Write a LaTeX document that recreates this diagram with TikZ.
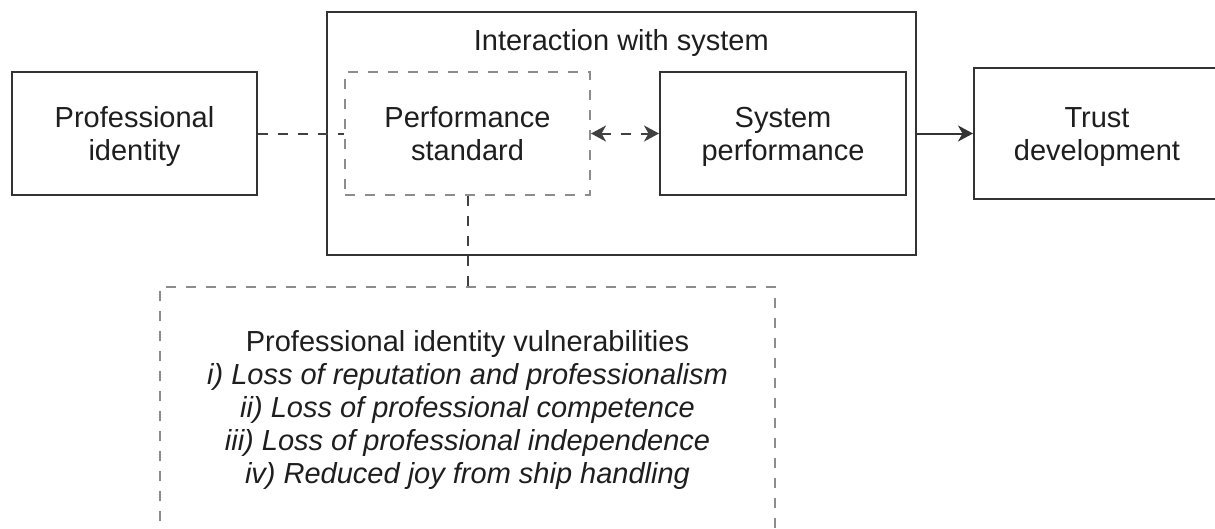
\documentclass[tikz,border=0pt]{standalone}
\usepackage{fontspec}
\setmainfont{Liberation Sans}
\usetikzlibrary{arrows.meta}
\definecolor{lineclr}{HTML}{333333}
\definecolor{dashclr}{HTML}{8C8C8C}
\definecolor{linkclr}{HTML}{404040}
\definecolor{txtclr}{HTML}{1E1E1E}
\newcommand{\tophgt}{\rule{0pt}{27pt}}
\newcommand{\botdep}{\rule[-6pt]{0pt}{6pt}}
\tikzset{
  basefont/.style={font=\fontsize{29}{32.8}\selectfont, text=txtclr},
  solidbox/.style={rectangle, draw=lineclr, line width=2pt, inner sep=0pt, align=center, basefont},
  dashbox/.style={solidbox, draw=dashclr, dash pattern=on 10pt off 10pt},
  dashlink/.style={draw=linkclr, line width=2pt, dash pattern=on 10pt off 10pt},
  solidlink/.style={draw=lineclr, line width=2pt},
}
\begin{document}
\begin{tikzpicture}[x=1pt, y=-1pt, >={Stealth[length=15pt, width=16pt, inset=4.5pt]}]
\useasboundingbox (0,0) rectangle (1215,528);
\clip (0,0) rectangle (1215,528);
% outer interaction box
\node[solidbox, minimum width=588.7pt, minimum height=243pt] (inter) at (621.3,133.5) {};
\node[basefont, anchor=base, inner sep=0pt] (intertitle) at (621.3,50) {Interaction with system};
% boxes
\node[solidbox, minimum width=245pt, minimum height=123pt] (pi) at (134.5,133.5) {Professional\tophgt\\identity\botdep};
\node[dashbox, minimum width=245pt, minimum height=123pt] (ps) at (467.5,133.5) {Performance\tophgt\\standard\botdep};
\node[solidbox, minimum width=246pt, minimum height=123pt] (sp) at (783,133.5) {System\tophgt\\performance\botdep};
\node[solidbox, minimum width=246pt, minimum height=131pt] (td) at (1097,133.5) {Trust\tophgt\\development\botdep};
\node[dashbox, minimum width=615pt, minimum height=246pt] (piv) at (467.5,410)
  {Professional identity vulnerabilities\\
   \itshape i) Loss of reputation and professionalism\\
   \itshape ii) Loss of professional competence\\
   \itshape iii) Loss of professional independence\\
   \itshape iv) Reduced joy from ship handling};
% connectors
\draw[dashlink] (pi.east) -- (ps.west);
\draw[dashlink, <->] (ps.east) -- (sp.west);
\draw[solidlink, ->] (inter.east) -- (td.west);
\draw[dashlink] (ps.south) -- (piv.north);
\end{tikzpicture}
\end{document}
